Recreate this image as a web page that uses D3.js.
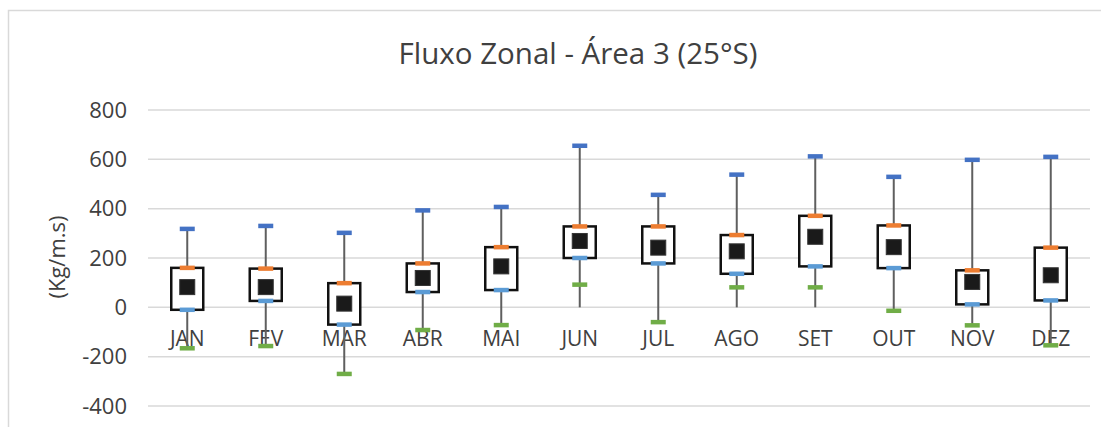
<!DOCTYPE html>
<html>
<head>
<meta charset="utf-8">
<script src="https://cdn.jsdelivr.net/npm/d3@7"></script>
<style>
  body { margin: 0; background: #fff; }
  text { font-family: "Open Sans", "Noto Sans", sans-serif; fill: #404040; }
</style>
</head>
<body>
<div id="viz"></div>
<script>
// Monthly stats
const months = ["JAN", "FEV", "MAR", "ABR", "MAI", "JUN", "JUL", "AGO", "SET", "OUT", "NOV", "DEZ"];
const maxV  = [318, 330, 302, 393, 407, 655, 456, 538, 612, 529, 598, 610];
const q3V   = [160, 157, 98, 178, 244, 328, 328, 293, 371, 332, 150, 242];
const q1V   = [-10, 26, -70, 62, 70, 200, 178, 136, 166, 159, 12, 28];
const minV  = [-166, -157, -270, -92, -72, 92, -60, 81, 81, -14, -73, -154];
const meanV = [82, 82, 15, 119, 166, 269, 242, 227, 286, 244, 103, 130];
// bottom of the high-low line (Excel draws it down to zero where min > 0)
const lineLow = [-166, -157, -270, -92, -72, 0, -60, 0, 0, -14, -73, -154];
const yTicks = [-400, -200, 0, 200, 400, 600, 800];

const data = months.map((m, i) => ({
  m, max: maxV[i], q3: q3V[i], q1: q1V[i], min: minV[i], mean: meanV[i], low: lineLow[i]
}));

const W = 1101, H = 427;
const svg = d3.select("#viz").append("svg")
  .attr("width", W)
  .attr("height", H);

// chart frame (runs off the right and bottom edges)
svg.append("rect")
  .attr("x", 8.5).attr("y", 10.5)
  .attr("width", 1200).attr("height", 600)
  .attr("fill", "none")
  .attr("stroke", "#d9d9d9")
  .attr("stroke-width", 1.5);

const x = d3.scaleBand()
  .domain(months)
  .range([148, 1090])
  .padding(0);

const y = d3.scaleLinear()
  .domain([-400, 800])
  .range([406, 110]);

// gridlines
svg.append("g")
  .selectAll("line")
  .data(yTicks)
  .enter()
  .append("line")
  .attr("x1", 148).attr("x2", 1090)
  .attr("y1", d => y(d)).attr("y2", d => y(d))
  .attr("stroke", "#d9d9d9")
  .attr("stroke-width", 1.5);

// y axis labels (plain hyphen for negatives, like Excel)
const yAxis = svg.append("g")
  .attr("transform", "translate(148,0)")
  .call(d3.axisLeft(y).tickValues(yTicks).tickFormat(d => String(d)).tickSize(0).tickPadding(21));
yAxis.select(".domain").remove();
yAxis.selectAll("text")
  .style("font-size", "22px")
  .style("font-family", "'Open Sans', 'Noto Sans', sans-serif")
  .attr("fill", "#404040");

// category labels sit just below the zero line
const xAxis = svg.append("g")
  .attr("transform", `translate(0,${y(0)})`)
  .call(d3.axisBottom(x).tickSize(0).tickPadding(24));
xAxis.select(".domain").remove();
xAxis.selectAll("text")
  .style("font-size", "21px")
  .style("font-family", "'Open Sans', 'Noto Sans', sans-serif")
  .attr("fill", "#404040");

// title + axis title
svg.append("text")
  .attr("x", 578).attr("y", 64)
  .attr("text-anchor", "middle")
  .style("font-size", "29.5px")
  .text("Fluxo Zonal - Área 3 (25°S)");

svg.append("text")
  .attr("transform", "translate(65,257) rotate(-90)")
  .attr("text-anchor", "middle")
  .style("font-size", "22px")
  .text("(Kg/m.s)");

const cx = d => x(d.m) + x.bandwidth() / 2;
const boxW = 32, capW = 15, capH = 4.5, markS = 15;

// high-low lines
svg.append("g")
  .selectAll("line")
  .data(data)
  .enter()
  .append("line")
  .attr("x1", cx).attr("x2", cx)
  .attr("y1", d => y(d.max)).attr("y2", d => y(d.low))
  .attr("stroke", "#5f5f5f")
  .attr("stroke-width", 2);

// boxes between Q1 and Q3
svg.append("g")
  .selectAll("rect")
  .data(data)
  .enter()
  .append("rect")
  .attr("x", d => cx(d) - boxW / 2)
  .attr("y", d => y(d.q3))
  .attr("width", boxW)
  .attr("height", d => y(d.q1) - y(d.q3))
  .attr("fill", "#fff")
  .attr("stroke", "#111")
  .attr("stroke-width", 2.5);

// coloured caps
const caps = [
  { key: "max", color: "#4472c4" },
  { key: "q3",  color: "#ed7d31" },
  { key: "q1",  color: "#5b9bd5" },
  { key: "min", color: "#70ad47" }
];
caps.forEach(c => {
  svg.append("g")
    .selectAll("rect")
    .data(data)
    .enter()
    .append("rect")
    .attr("x", d => cx(d) - capW / 2)
    .attr("y", d => y(d[c.key]) - capH / 2)
    .attr("width", capW)
    .attr("height", capH)
    .attr("fill", c.color);
});

// mean markers
svg.append("g")
  .selectAll("rect")
  .data(data)
  .enter()
  .append("rect")
  .attr("x", d => cx(d) - markS / 2)
  .attr("y", d => y(d.mean) - markS / 2)
  .attr("width", markS)
  .attr("height", markS)
  .attr("fill", "#1a1a1a")
  .attr("stroke", "#333")
  .attr("stroke-width", 1);
</script>
</body>
</html>
